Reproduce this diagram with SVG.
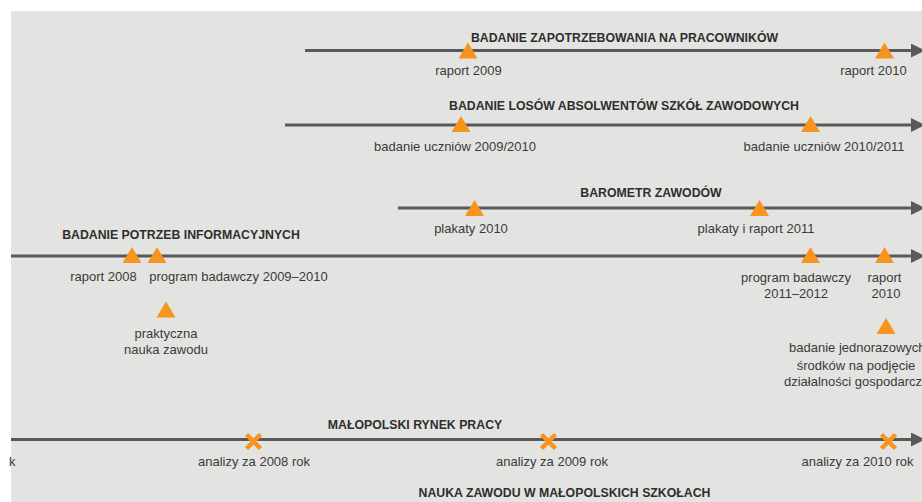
<svg xmlns="http://www.w3.org/2000/svg" width="922" height="502" viewBox="0 0 922 502">
<defs>
<style>
.bg{fill:#e3e4e1}
.ln{stroke:#58595b;stroke-width:3;fill:none}
.tri{fill:#f7941e}
.x{stroke:#f7941e;stroke-width:4.5;fill:none}
.t{font-family:"Liberation Sans",Arial,sans-serif;font-size:12.3px;font-weight:bold;fill:#2e2e2e;text-anchor:middle}
.l{font-family:"Liberation Sans",Arial,sans-serif;font-size:13px;fill:#3a3a3a;text-anchor:middle}
.ls{font-family:"Liberation Sans",Arial,sans-serif;font-size:13px;fill:#3a3a3a}
</style>
<marker id="arr" markerUnits="userSpaceOnUse" markerWidth="16" markerHeight="16" refX="1" refY="7" orient="auto">
<path d="M0,0 L14,7 L0,14 Z" fill="#58595b"/>
</marker>
<path id="tr" class="tri" d="M0,-8 L9.5,8 L-9.5,8 Z"/>
<path id="xm" class="x" d="M-7,-7 L7,7 M7,-7 L-7,7"/>
</defs>
<rect class="bg" x="11" y="11" width="911" height="491"/>

<g id="connectors">
<line class="ln" x1="305" y1="50.5" x2="912" y2="50.5" marker-end="url(#arr)"/>
<line class="ln" x1="285" y1="125" x2="912" y2="125" marker-end="url(#arr)"/>
<line class="ln" x1="398" y1="208" x2="912" y2="208" marker-end="url(#arr)"/>
<line class="ln" x1="11" y1="256" x2="912" y2="256" marker-end="url(#arr)"/>
<line class="ln" x1="11" y1="439.5" x2="912" y2="439.5" marker-end="url(#arr)"/>
</g>

<g id="zapotrzebowanie">
<text class="t" x="624.5" y="41.5">BADANIE ZAPOTRZEBOWANIA NA PRACOWNIKÓW</text>
<use href="#tr" x="468" y="50.5"/>
<use href="#tr" x="884.5" y="50.5"/>
<text class="l" x="468.5" y="75">raport 2009</text>
<text class="l" x="873.5" y="75">raport 2010</text>
</g>

<g id="losy">
<text class="t" x="624" y="110">BADANIE LOSÓW ABSOLWENTÓW SZKÓŁ ZAWODOWYCH</text>
<use href="#tr" x="461" y="124"/>
<use href="#tr" x="810.5" y="124"/>
<text class="l" x="455" y="150.5">badanie uczniów 2009/2010</text>
<text class="l" x="824" y="150.5">badanie uczniów 2010/2011</text>
</g>

<g id="barometr">
<text class="t" x="651" y="196.5">BAROMETR ZAWODÓW</text>
<use href="#tr" x="474.5" y="208"/>
<use href="#tr" x="759.5" y="208"/>
<text class="l" x="471" y="233">plakaty 2010</text>
<text class="l" x="756" y="233">plakaty i raport 2011</text>
</g>

<g id="potrzeby">
<text class="t" x="181" y="239">BADANIE POTRZEB INFORMACYJNYCH</text>
<use href="#tr" x="132" y="255"/>
<use href="#tr" x="157" y="255"/>
<text class="l" x="103.5" y="281">raport 2008</text>
<text class="l" x="238.5" y="281">program badawczy 2009–2010</text>
<use href="#tr" x="810.5" y="255"/>
<use href="#tr" x="884.5" y="255"/>
<text class="l" x="796" y="281.5">program badawczy</text>
<text class="l" x="796" y="298">2011–2012</text>
<text class="l" x="884.5" y="281.5">raport</text>
<text class="l" x="886" y="298">2010</text>
</g>

<g id="praktyczna">
<use href="#tr" x="166" y="309.5"/>
<text class="l" x="166" y="337.5">praktyczna</text>
<text class="l" x="166" y="354">nauka zawodu</text>
</g>

<g id="jednorazowe">
<use href="#tr" x="886" y="326"/>
<text class="ls" x="789" y="352">badanie jednorazowych</text>
<text class="l" x="856" y="369.5">środków na podjęcie</text>
<text class="ls" x="784" y="386">działalności gospodarczej</text>
</g>

<g id="rynek">
<text class="t" x="415" y="429">MAŁOPOLSKI RYNEK PRACY</text>
<use href="#xm" x="253.5" y="441.5"/>
<use href="#xm" x="548.5" y="441.5"/>
<use href="#xm" x="888.5" y="441.5"/>
<text class="ls" x="9" y="465.5">k</text>
<text class="l" x="254" y="465.5">analizy za 2008 rok</text>
<text class="l" x="552" y="465.5">analizy za 2009 rok</text>
<text class="l" x="857.5" y="465.5">analizy za 2010 rok</text>
</g>

<g id="nauka">
<text class="t" x="564.5" y="497">NAUKA ZAWODU W MAŁOPOLSKICH SZKOŁACH</text>
</g>
</svg>
